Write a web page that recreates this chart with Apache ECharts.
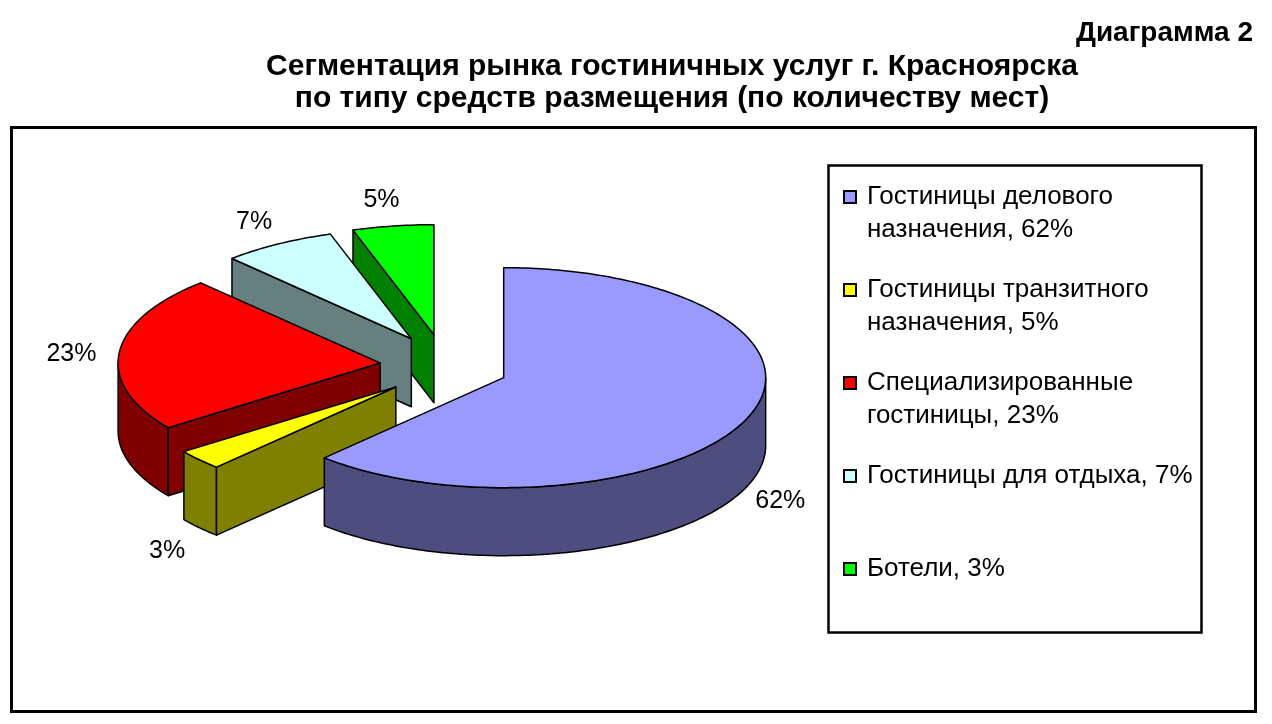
<!DOCTYPE html>
<html lang="ru">
<head>
<meta charset="UTF-8">
<title>Диаграмма 2</title>
<script src="https://cdn.jsdelivr.net/npm/echarts@6.0.0/dist/echarts.min.js"></script>
<style>
  html, body { margin: 0; padding: 0; background: #fff; }
  #chart { width: 1272px; height: 724px; }
</style>
</head>
<body>
<div id="chart"></div>
<script>
// data (slice order clockwise from 12 o'clock)
const categories = [
  'Гостиницы делового назначения',
  'Гостиницы транзитного назначения',
  'Специализированные гостиницы',
  'Гостиницы для отдыха',
  'Ботели'
];
const values = [62, 3, 23, 7, 5];
const pieLabels = ['62%', '3%', '23%', '7%', '5%'];
const legendLabels = [
  'Гостиницы делового\nназначения, 62%',
  'Гостиницы транзитного\nназначения, 5%',
  'Специализированные\nгостиницы, 23%',
  'Гостиницы для отдыха, 7%',
  'Ботели, 3%'
];

const topColors = ['#9999FF', '#FFFF00', '#FF0000', '#CCFFFF', '#00FF00'];
const sideColors = ['#4D4D80', '#808000', '#800000', '#668080', '#008000'];

// 3d pie layout, px
const CX = 444, CY = 366, RX = 262, RY = 110, DEPTH = 68;
const EXPLODE_X = 0.245, EXPLODE_Y = 0.288;
const FONT = '"Liberation Sans", Arial, sans-serif';

const total = values.reduce((a, b) => a + b, 0);
const startAngles = [];
let acc = 0;
values.forEach(v => { startAngles.push(acc / total * 360); acc += v; });

// slices far from the front (180deg) are painted first
function frontDistance(i) {
  const s = startAngles[i], e = s + values[i] / total * 360;
  if (s <= 180 && e >= 180) return 0;
  return Math.min(Math.abs(s - 180), Math.abs(e - 180));
}
const order = values.map((v, i) => i).sort((a, b) => frontDistance(b) - frontDistance(a));
const rank = [];
order.forEach((idx, r) => { rank[idx] = r; });

function rad(d) { return d * Math.PI / 180; }
function onEllipse(ox, oy, deg, dy) {
  return [ox + RX * Math.sin(rad(deg)), oy - RY * Math.cos(rad(deg)) + (dy || 0)];
}
function arcPoints(ox, oy, a0, a1, dy) {
  const n = Math.max(2, Math.ceil(a1 - a0));
  const pts = [];
  for (let k = 0; k <= n; k++) pts.push(onEllipse(ox, oy, a0 + (a1 - a0) * k / n, dy));
  return pts;
}

function renderSlice(i) {
  return function (params, api) {
    const v = api.value(0);
    const a0 = startAngles[i];
    const a1 = a0 + v / total * 360;
    const mid = (a0 + a1) / 2;
    const s = Math.sin(rad(mid)), c = Math.cos(rad(mid));
    const ox = CX + EXPLODE_X * RX * s;
    const oy = CY - EXPLODE_Y * RY * c;
    const base = rank[i] * 10;
    const line = { stroke: '#000', lineWidth: 1.5, lineJoin: 'round' };
    const children = [];

    // outer wall, only the front half of the rim is seen
    const f0 = Math.max(a0, 90), f1 = Math.min(a1, 270);
    if (f1 > f0) {
      const top = arcPoints(ox, oy, f0, f1, 0);
      const bottom = arcPoints(ox, oy, f0, f1, DEPTH).reverse();
      children.push({ type: 'polygon', z2: base + 1,
        shape: { points: top.concat(bottom) },
        style: Object.assign({ fill: sideColors[i] }, line) });
    }
    // radial walls facing the viewer
    const walls = [];
    if (Math.sin(rad(a0)) < -1e-6) walls.push(a0);
    if (Math.sin(rad(a1)) > 1e-6) walls.push(a1);
    walls.forEach(a => {
      const p = onEllipse(ox, oy, a, 0);
      children.push({ type: 'polygon', z2: base + 1,
        shape: { points: [[ox, oy], p, [p[0], p[1] + DEPTH], [ox, oy + DEPTH]] },
        style: Object.assign({ fill: sideColors[i] }, line) });
    });
    // top face
    children.push({ type: 'polygon', z2: base + 2,
      shape: { points: [[ox, oy]].concat(arcPoints(ox, oy, a0, a1, 0)) },
      style: Object.assign({ fill: topColors[i] }, line) });

    // percent label outside the rim
    const txt = pieLabels[i];
    const hw = 7 * txt.length + 3, hh = 12, gap = 18;
    const edge = onEllipse(ox, oy, mid, c < 0 ? DEPTH : 0);
    children.push({ type: 'text', z2: 200,
      x: edge[0] + gap * s + hw * s - 6,
      y: edge[1] - gap * c - hh * c + 4,
      style: { text: txt, font: '25px ' + FONT, fill: '#000', align: 'center', verticalAlign: 'middle' } });

    return { type: 'group', children: children };
  };
}

const chart = echarts.init(document.getElementById('chart'));
chart.setOption({
  backgroundColor: '#fff',
  animation: false,
  legend: {
    orient: 'vertical', left: 843, top: 147.5, padding: 0, itemGap: -6,
    icon: 'rect', itemWidth: 12, itemHeight: 12, selectedMode: false,
    itemStyle: { borderColor: '#000', borderWidth: 2 },
    data: categories,
    // blank first line keeps the icon level with the first text line
    formatter: name => {
      const t = legendLabels[categories.indexOf(name)];
      return ' \n' + (t.indexOf('\n') < 0 ? t + '\n ' : t);
    },
    textStyle: { fontFamily: FONT, fontSize: 26, lineHeight: 33, color: '#000', padding: [0, 0, 0, 6] }
  },
  graphic: [
    { type: 'text', x: 1253, y: 33, silent: true,
      style: { text: 'Диаграмма 2', font: 'bold 28px ' + FONT, fill: '#000', align: 'right', verticalAlign: 'middle' } },
    { type: 'text', x: 672, y: 67, silent: true,
      style: { text: 'Сегментация рынка гостиничных услуг г. Красноярска', font: 'bold 30px ' + FONT,
        fill: '#000', align: 'center', verticalAlign: 'middle' } },
    { type: 'text', x: 672, y: 99, silent: true,
      style: { text: 'по типу средств размещения (по количеству мест)', font: 'bold 30px ' + FONT,
        fill: '#000', align: 'center', verticalAlign: 'middle' } },
    { type: 'rect', shape: { x: 11.5, y: 127.5, width: 1244, height: 584 },
      style: { fill: 'none', stroke: '#000', lineWidth: 3 }, silent: true },
    { type: 'rect', shape: { x: 828.5, y: 165.5, width: 373, height: 467 },
      style: { fill: 'none', stroke: '#000', lineWidth: 2.5 }, silent: true }
  ],
  series: categories.map((name, i) => ({
    type: 'custom',
    name: name,
    coordinateSystem: 'none',
    silent: true,
    itemStyle: { color: topColors[i] },
    data: [values[i]],
    renderItem: renderSlice(i)
  }))
});
</script>
</body>
</html>
